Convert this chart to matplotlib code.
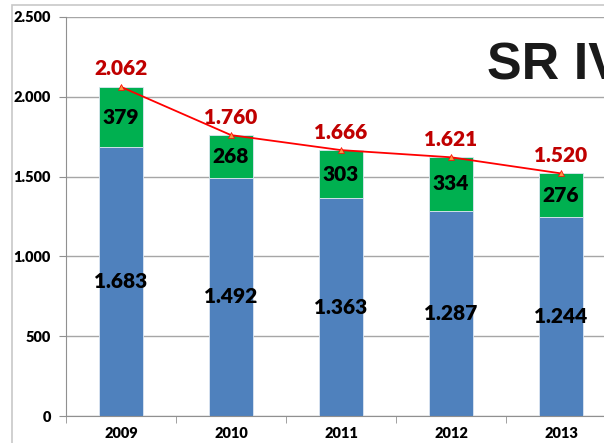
import matplotlib.pyplot as plt
from matplotlib.patches import Rectangle
from matplotlib.ticker import FuncFormatter

years = ["2009", "2010", "2011", "2012", "2013"]
base = [1683, 1492, 1363, 1287, 1244]
extra = [379, 268, 303, 334, 276]
totals = [2062, 1760, 1666, 1621, 1520]

blue = "#4f81bd"
green = "#00b050"
red = "#ff0000"
dark_red = "#c00000"

W, H = 604, 443
fig = plt.figure(figsize=(W / 100, H / 100), dpi=100)

# outer frame of the slide-chart
fig.patches.append(Rectangle((12 / W, -0.1), 1.2, 1 - 5 / H + 0.1, transform=fig.transFigure,
                             fill=False, edgecolor="#c8c8c8", linewidth=1.2))


def fmt(v, p=None):
    return f"{int(v)}" if v < 1000 else f"{int(v) // 1000}.{int(v) % 1000:03d}"


# axes stretch past the right edge, like the cropped original
ax = fig.add_axes([66 / W, 27 / H, 550 / W, 399 / H])
x = range(len(years))
ax.bar(x, base, width=0.4, color=blue, edgecolor="#dce6f2", linewidth=0.6, zorder=2)
ax.bar(x, extra, width=0.4, bottom=base, color=green, edgecolor="#dce6f2", linewidth=0.6, zorder=2)
ax.plot(x, totals, color=red, linewidth=1.3, marker="^", markersize=4,
        markerfacecolor="#f79646", markeredgecolor=red, markeredgewidth=0.5, zorder=3)

lab = dict(fontfamily="Lato", fontweight="heavy", fontsize=15, ha="center", va="center")
for i in x:
    ax.text(i, base[i] / 2, fmt(base[i]), color="black", zorder=4, **lab)
    ax.text(i, base[i] + extra[i] / 2, fmt(extra[i]), color="black", zorder=4, **lab)
    ax.annotate(fmt(totals[i]), (i, totals[i]), xytext=(0, 13), textcoords="offset points",
                color=dark_red, zorder=4, **lab)

ax.set_xlim(-0.5, 4.5)
ax.set_ylim(0, 2500)
ax.set_yticks(range(0, 2501, 500))
ax.yaxis.set_major_formatter(FuncFormatter(fmt))
ax.set_xticks(list(x))
ax.set_xticklabels(years)
ax.set_xticks([i + 0.5 for i in range(-1, 5)], minor=True)
ax.tick_params(axis="x", which="major", length=0, pad=8)
ax.tick_params(axis="x", which="minor", length=5, color="#909090", direction="out")
ax.tick_params(axis="y", length=5, color="#909090", pad=6)
for t in ax.get_xticklabels() + ax.get_yticklabels():
    t.set_fontfamily("Lato")
    t.set_fontweight("heavy")
    t.set_fontsize(10.5)

ax.grid(axis="y", color="#a6a6a6", linewidth=1, zorder=0)
ax.set_axisbelow(True)
for s in ["top", "right"]:
    ax.spines[s].set_visible(False)
ax.spines["left"].set_color("#909090")
ax.spines["bottom"].set_color("#909090")

fig.text(487 / W, 1 - 80 / H, "SR IV", fontfamily="Liberation Sans", fontweight="bold",
         fontsize=37.5, color="#1a1a1a", ha="left", va="baseline")

fig.savefig("out.png", dpi=100)
